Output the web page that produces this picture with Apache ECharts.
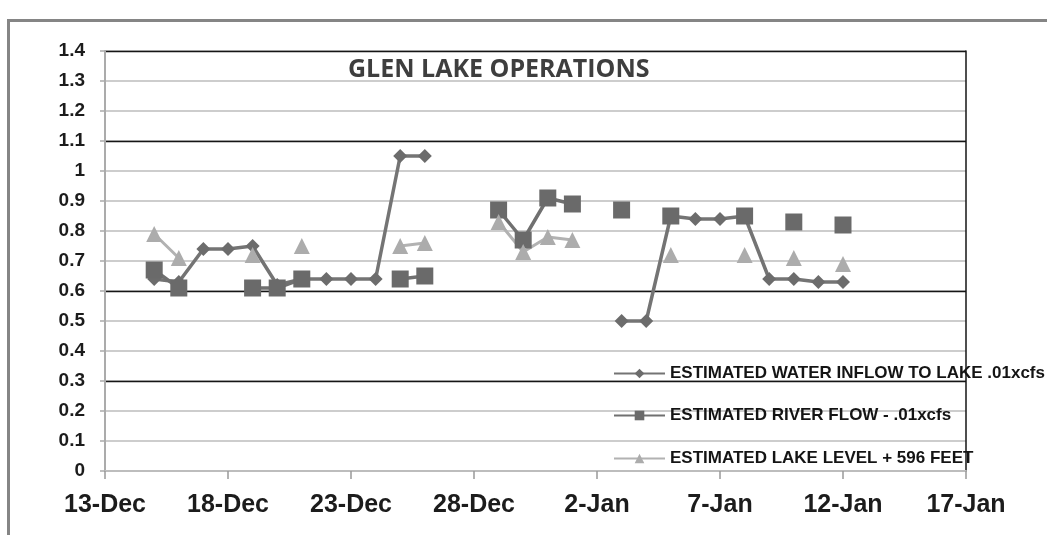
<!DOCTYPE html>
<html>
<head>
<meta charset="utf-8">
<script src="https://cdn.jsdelivr.net/npm/echarts@6/dist/echarts.min.js"></script>
<style>
html,body{margin:0;padding:0;background:#fff;}
#chart{width:1047px;height:535px;}
</style>
</head>
<body>
<div id="chart"></div>
<script>
// ---- data ----
const startDate = '2011-12-13';
const dates = [
  '2011-12-15','2011-12-16','2011-12-17','2011-12-18','2011-12-19','2011-12-20',
  '2011-12-21','2011-12-22','2011-12-23','2011-12-24','2011-12-25','2011-12-26',
  '2011-12-27','2011-12-28','2011-12-29','2011-12-30','2011-12-31',
  '2012-01-01','2012-01-02','2012-01-03','2012-01-04','2012-01-05','2012-01-06',
  '2012-01-07','2012-01-08','2012-01-09','2012-01-10','2012-01-11','2012-01-12'
];
const inflow = [
  0.64,0.63,0.74,0.74,0.75,0.62,0.64,0.64,0.64,0.64,1.05,1.05,
  null,null,null,null,null,
  null,null,0.50,0.50,0.85,0.84,0.84,0.85,0.64,0.64,0.63,0.63
];
const riverFlow = [
  0.67,0.61,null,null,0.61,0.61,0.64,null,null,null,0.64,0.65,
  null,null,0.87,0.77,0.91,
  0.89,null,0.87,null,0.85,null,null,0.85,null,0.83,null,0.82
];
const lakeLevel = [
  0.79,0.71,null,null,0.72,null,0.75,null,null,null,0.75,0.76,
  null,null,0.83,0.73,0.78,
  0.77,null,null,null,0.72,null,null,0.72,null,0.71,null,0.69
];
const seriesNames = [
  'ESTIMATED WATER INFLOW TO LAKE .01xcfs',
  'ESTIMATED RIVER FLOW - .01xcfs',
  'ESTIMATED LAKE LEVEL + 596 FEET'
];
const xTickLabels = ['13-Dec','18-Dec','23-Dec','28-Dec','2-Jan','7-Jan','12-Jan','17-Jan'];
const blackLineValues = [0.3, 0.6, 1.1, 1.4];
const titleText = 'GLEN LAKE OPERATIONS';

// ---- build ----
const dayNum = d => Math.round((Date.parse(d) - Date.parse(startDate)) / 864e5);
const pairs = arr => dates.map((d, i) => [dayNum(d), arr[i] == null ? '-' : arr[i]]);
const yMin = 0, yMax = 1.4, yStep = 0.1;
const nTicks = Math.round((yMax - yMin) / yStep) + 1;
const blackColors = [];
for (let i = 0; i < nTicks; i++) {
  const v = +(yMin + i * yStep).toFixed(2);
  blackColors.push(blackLineValues.some(b => Math.abs(b - v) < 1e-6) ? '#151515' : 'rgba(0,0,0,0)');
}

const chart = echarts.init(document.getElementById('chart'), null, {renderer: 'canvas'});
const labelFont = 'Liberation Sans, Arial, sans-serif';
const legendBase = {
  orient: 'vertical', left: 613, padding: 0, itemWidth: 51, itemHeight: 12, itemGap: 0,
  textStyle: {fontFamily: labelFont, fontWeight: 'bold', fontSize: 17, color: '#141414'}
};
chart.setOption({
  backgroundColor: '#ffffff',
  animation: false,
  title: {
    text: titleText, left: 343, top: 52,
    textStyle: {fontFamily: 'Open Sans, sans-serif', fontWeight: 'bold', fontSize: 25, color: '#3e3e3e'}
  },
  graphic: [{
    type: 'rect', z: -10, silent: true,
    shape: {x: 8.5, y: 20.5, width: 1200, height: 800},
    style: {fill: 'none', stroke: '#858585', lineWidth: 3}
  }],
  legend: [
    Object.assign({}, legendBase, {top: 365, data: [seriesNames[0]]}),
    Object.assign({}, legendBase, {top: 407, data: [seriesNames[1]]}),
    Object.assign({}, legendBase, {top: 450, data: [seriesNames[2]]})
  ],
  grid: {left: 105, right: 81, top: 51, bottom: 64, containLabel: false},
  xAxis: {
    type: 'value', min: 0, max: 35, interval: 5,
    axisLine: {show: true, lineStyle: {color: '#bdbdbd', width: 2}},
    axisTick: {show: true, length: 8, lineStyle: {color: '#999', width: 1.5}},
    splitLine: {show: false},
    axisLabel: {
      margin: 22, fontFamily: labelFont, fontWeight: 'bold', fontSize: 25, color: '#1c1c1c',
      formatter: v => xTickLabels[Math.round(v / 5)] || ''
    }
  },
  yAxis: [{
    type: 'value', min: yMin, max: yMax, interval: yStep, position: 'left',
    axisLine: {show: true, lineStyle: {color: '#ababab', width: 2}},
    axisTick: {show: true, length: 5, lineStyle: {color: '#ababab', width: 1.5}},
    splitLine: {show: true, lineStyle: {color: '#cdcdcd', width: 2}},
    axisLabel: {margin: 20, fontFamily: labelFont, fontWeight: 'bold', fontSize: 19, color: '#1c1c1c'}
  }, {
    type: 'value', min: yMin, max: yMax, interval: yStep, position: 'right',
    axisLine: {show: true, lineStyle: {color: '#151515', width: 1.5}},
    axisTick: {show: false}, axisLabel: {show: false},
    splitLine: {show: true, lineStyle: {color: blackColors, width: 1.3}}
  }],
  series: [{
    name: seriesNames[0], type: 'line', data: pairs(inflow), connectNulls: false,
    symbol: 'diamond', symbolSize: 14, showSymbol: true,
    itemStyle: {color: '#6c6c6c'}, lineStyle: {color: '#747474', width: 3.5}
  }, {
    name: seriesNames[1], type: 'line', data: pairs(riverFlow), connectNulls: false,
    symbol: 'rect', symbolSize: 17, showSymbol: true,
    itemStyle: {color: '#6a6a6a'}, lineStyle: {color: '#707070', width: 3.5}
  }, {
    name: seriesNames[2], type: 'line', data: pairs(lakeLevel), connectNulls: false,
    symbol: 'triangle', symbolSize: 16, showSymbol: true,
    itemStyle: {color: '#acacac'}, lineStyle: {color: '#b2b2b2', width: 3}
  }]
});
</script>
</body>
</html>
